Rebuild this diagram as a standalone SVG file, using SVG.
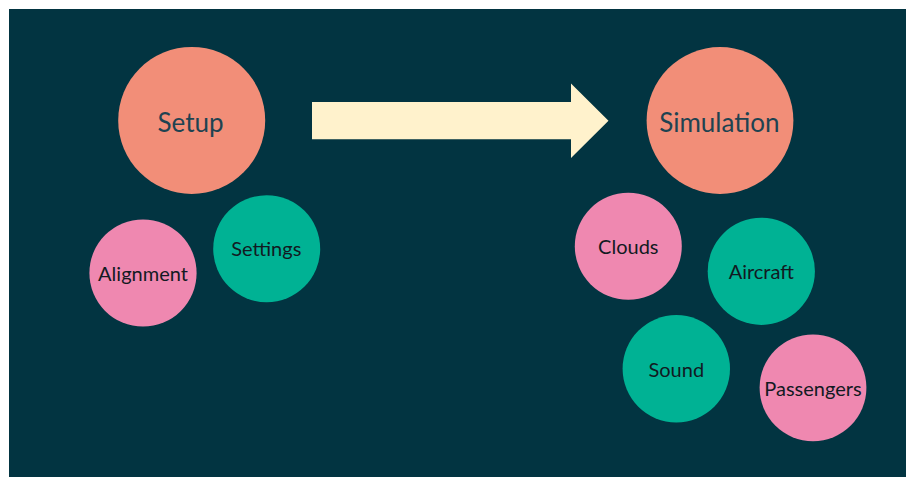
<svg xmlns="http://www.w3.org/2000/svg" width="906" height="477" viewBox="0 0 906 477">
<style>
.bg{fill:#023441}
.big{fill:#F28E78}
.teal{fill:#00B294}
.pink{fill:#EF88B0}
.arrow{fill:#FFF2CC}
text{font-family:Lato,"Open Sans","Liberation Sans",sans-serif;text-anchor:middle}
.lg{font-size:26px;fill:#1E4351}
.sm{font-size:20px;fill:#121A22}
</style>
<rect width="906" height="477" fill="#ffffff"/>
<rect class="bg" x="9" y="9" width="897" height="468"/>
<g id="connectors">
<polygon class="arrow" points="312,102 571,102 571,83.5 608.5,120.7 571,158 571,139.3 312,139.3"/>
</g>
<g id="setup"><circle class="big" cx="191.7" cy="120.4" r="73.5"/><text class="lg" x="190.5" y="131.5">Setup</text></g>
<g id="settings"><circle class="teal" cx="266.7" cy="248.7" r="53.5"/><text class="sm" x="266.3" y="256">Settings</text></g>
<g id="alignment"><circle class="pink" cx="143" cy="273" r="53.6"/><text class="sm" x="143" y="280.7">Alignment</text></g>
<g id="simulation"><circle class="big" cx="720" cy="120.5" r="73.4"/><text class="lg" x="719.3" y="131.5">Simulation</text></g>
<g id="clouds"><circle class="pink" cx="628.3" cy="246.3" r="53.5"/><text class="sm" x="628.3" y="254">Clouds</text></g>
<g id="aircraft"><circle class="teal" cx="761.3" cy="271.3" r="53.6"/><text class="sm" x="761.3" y="279">Aircraft</text></g>
<g id="sound"><circle class="teal" cx="676.3" cy="368.8" r="53.7"/><text class="sm" x="676.3" y="376.5">Sound</text></g>
<g id="passengers"><circle class="pink" cx="813" cy="387.8" r="53.4"/><text class="sm" x="813" y="395.5">Passengers</text></g>
</svg>
